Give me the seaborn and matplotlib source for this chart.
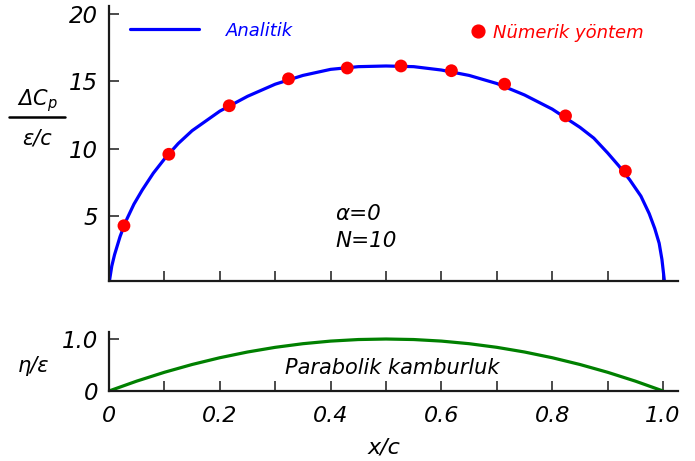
import numpy as np
import matplotlib.pyplot as plt
import seaborn as sns
from matplotlib.lines import Line2D

# analytic pressure jump curve
x_analytic = [0.0, 0.005, 0.01, 0.02, 0.03, 0.045, 0.06, 0.08, 0.1, 0.125,
              0.15, 0.2, 0.25, 0.3, 0.35, 0.4, 0.45, 0.5, 0.55, 0.6,
              0.65, 0.7, 0.75, 0.8, 0.85, 0.875, 0.9, 0.92, 0.94, 0.96,
              0.975, 0.985, 0.993, 0.998, 1.003]
cp_analytic = [0.0, 1.3, 2.15, 3.5, 4.6, 5.9, 6.95, 8.2, 9.25, 10.4,
               11.35, 12.8, 13.9, 14.8, 15.45, 15.9, 16.1, 16.15, 16.1, 15.85,
               15.45, 14.85, 14.0, 12.95, 11.6, 10.8, 9.7, 8.75, 7.7, 6.5,
               5.2, 4.1, 3.0, 1.8, 0.0]

# numerical method points (N=10)
x_numeric = [0.027, 0.108, 0.217, 0.324, 0.430, 0.527, 0.618, 0.714, 0.824, 0.932]
cp_numeric = [4.3, 9.6, 13.2, 15.2, 16.0, 16.15, 15.8, 14.8, 12.45, 8.35]

# parabolic camber line
x_camber = [0.0, 0.05, 0.1, 0.15, 0.2, 0.25, 0.3, 0.35, 0.4, 0.45, 0.5,
            0.55, 0.6, 0.65, 0.7, 0.75, 0.8, 0.85, 0.9, 0.95, 1.0]
eta_camber = [0.0, 0.19, 0.36, 0.51, 0.64, 0.75, 0.84, 0.91, 0.96, 0.99, 1.0,
              0.99, 0.96, 0.91, 0.84, 0.75, 0.64, 0.51, 0.36, 0.19, 0.0]

sns.set_theme(style='white')
plt.rcParams['font.family'] = ['DejaVu Sans']
plt.rcParams['text.color'] = 'black'
plt.rcParams['axes.labelcolor'] = 'black'
plt.rcParams['mathtext.fontset'] = 'custom'
plt.rcParams['mathtext.it'] = 'DejaVu Sans:italic'
plt.rcParams['mathtext.rm'] = 'DejaVu Sans:italic'

W, H = 695, 461
fig = plt.figure(figsize=(W / 100, H / 100), dpi=100)
ax1 = fig.add_axes([109 / W, 1 - 281 / H, 569 / W, 275 / H])
ax2 = fig.add_axes([109 / W, 1 - 391 / H, 569 / W, 59 / H])

sns.lineplot(x=x_analytic, y=cp_analytic, ax=ax1, color='blue', lw=2.3,
             sort=False, estimator=None, legend=False)
sns.scatterplot(x=x_numeric, y=cp_numeric, ax=ax1, color='red', s=85,
                edgecolor='none', zorder=3, legend=False)
sns.lineplot(x=x_camber, y=eta_camber, ax=ax2, color='green', lw=2.3,
             sort=False, estimator=None, legend=False)

ticks = np.round(np.arange(0, 1.01, 0.1), 1)
for ax in (ax1, ax2):
    ax.set_xlim(0, 1.027)
    ax.set_xticks(ticks)
    for s in ('top', 'right'):
        ax.spines[s].set_visible(False)
    for s in ('left', 'bottom'):
        ax.spines[s].set_linewidth(1.6)
        ax.spines[s].set_color('#1a1a1a')
    ax.tick_params(direction='in', length=7, width=1.1, color='#1a1a1a',
                   labelcolor='black', bottom=True, left=True)
    ax.set_facecolor('none')

ax1.set_ylim(0.2, 20.6)
ax1.set_yticks([5, 10, 15, 20])
ax1.set_xticklabels([])
ax1.tick_params(axis='y', labelsize=16.5, pad=8)
for t in ax1.get_yticklabels():
    t.set_style('italic')

ax2.set_ylim(0, 1.135)
ax2.set_yticks([0, 1.0])
ax2.set_yticklabels(['0', '1.0'])
ax2.set_xticklabels(['0' if v == 0 else (f'{v:.1f}' if round(v * 10) % 2 == 0 else '')
                     for v in ticks])
ax2.tick_params(axis='y', labelsize=16.5, pad=8)
ax2.tick_params(axis='x', labelsize=16, pad=11)
for t in ax2.get_yticklabels() + ax2.get_xticklabels():
    t.set_style('italic')

ax2.set_xlabel('x/c', fontsize=16, style='italic')
ax2.xaxis.set_label_coords((384 - 109) / 569, -0.78)
ax2.set_ylabel('η/ε', fontsize=15, style='italic', rotation=0, va='center', ha='center')
ax2.yaxis.set_label_coords((34 - 109) / 569, 0.424)

# fraction-style y label for the upper panel
fig.text(37 / W, 1 - 101 / H, 'ΔC$_p$', fontsize=15, style='italic', ha='center', va='center')
fig.add_artist(Line2D([9 / W, 65 / W], [1 - 117 / H, 1 - 117 / H], color='black', lw=1.8))
fig.text(37 / W, 1 - 138 / H, 'ε/c', fontsize=15, style='italic', ha='center', va='center')

ax1.text(0.409, 5.2, 'α=0', fontsize=15.5, style='italic', va='center')
ax1.text(0.409, 3.2, 'N=10', fontsize=15.5, style='italic', va='center')
ax2.text(0.705, 0.45, 'Parabolik kamburluk', fontsize=15, style='italic', ha='right', va='center')

h_line = Line2D([], [], color='blue', lw=2.3)
h_dot = Line2D([], [], color='red', marker='o', ls='none', markersize=9.2)
leg1 = ax1.legend(handles=[h_line], labels=['Analitik'], loc='center left',
                  bbox_to_anchor=(130 / W, 1 - 30.5 / H), bbox_transform=fig.transFigure,
                  frameon=False, borderpad=0, borderaxespad=0, handlelength=3.8,
                  handletextpad=1.5, labelcolor='blue', prop={'style': 'italic', 'size': 13})
ax1.add_artist(leg1)
ax1.legend(handles=[h_dot], labels=['Nümerik yöntem'], loc='center left',
           bbox_to_anchor=(470.7 / W, 1 - 32.5 / H), bbox_transform=fig.transFigure,
           frameon=False, borderpad=0, borderaxespad=0, handlelength=0.8,
           handletextpad=0.42, labelcolor='red', prop={'style': 'italic', 'size': 13})

fig.savefig('out.png', dpi=100)
